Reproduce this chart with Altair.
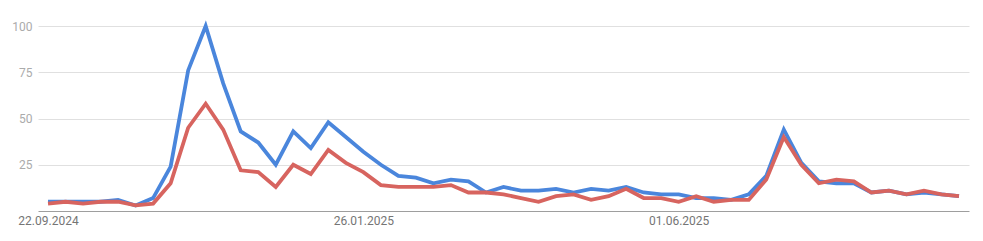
import altair as alt
import pandas as pd

start_date = "2024-09-22"
n_weeks = 53

series_a = [5, 5, 5, 5, 6, 3, 7, 24, 76, 100, 69, 43, 37, 25, 43, 34, 48, 40, 32, 25,
            19, 18, 15, 17, 16, 10, 13, 11, 11, 12, 10, 12, 11, 13, 10, 9, 9, 7, 7, 6,
            9, 19, 44, 26, 16, 15, 15, 10, 11, 9, 10, 9, 8]
series_b = [4, 5, 4, 5, 5, 3, 4, 15, 45, 58, 44, 22, 21, 13, 25, 20, 33, 26, 21, 14,
            13, 13, 13, 14, 10, 10, 9, 7, 5, 8, 9, 6, 8, 12, 7, 7, 5, 8, 5, 6,
            6, 17, 40, 25, 15, 17, 16, 10, 11, 9, 11, 9, 8]
series_names = ["A", "B"]
series_colors = ["#4a86dc", "#d7645f"]
x_tick_dates = ["2024-09-22", "2025-01-26", "2025-06-01"]
y_ticks = [25, 50, 75, 100]

dates = pd.date_range(start_date, periods=n_weeks, freq="7D")
df = pd.concat([
    pd.DataFrame({"date": dates, "value": series_a, "series": series_names[0]}),
    pd.DataFrame({"date": dates, "value": series_b, "series": series_names[1]}),
])

x_ticks = [alt.DateTime(year=int(d[:4]), month=int(d[5:7]), date=int(d[8:10])) for d in x_tick_dates]

chart = alt.Chart(df).mark_line(strokeWidth=3.8, strokeJoin="miter", interpolate="linear").encode(
    x=alt.X("date:T",
            scale=alt.Scale(domain=[alt.DateTime(year=2024, month=9, date=18),
                                    alt.DateTime(year=2025, month=9, date=25)]),
            axis=alt.Axis(values=x_ticks, format="%d.%m.%Y", title=None, grid=False,
                          ticks=False, domainColor="#9e9e9e", domainWidth=1,
                          labelColor="#757575", labelFontSize=12, labelFont="Roboto",
                          labelPadding=4, labelAlign="center")),
    y=alt.Y("value:Q", scale=alt.Scale(domain=[0, 100], nice=False),
            axis=alt.Axis(values=y_ticks, title=None, domain=False, ticks=False,
                          gridColor="#e0e0e0", gridWidth=1,
                          labelColor="#ababab", labelFontSize=12, labelFont="Roboto",
                          labelPadding=6)),
    color=alt.Color("series:N", scale=alt.Scale(domain=series_names, range=series_colors),
                    legend=None),
    order=alt.Order("series:N", sort="descending"),
).properties(
    width=931, height=185,
    autosize=alt.AutoSizeParams(type="none"),
    padding={"left": 38, "top": 26, "right": 14, "bottom": 30},
).configure(
    background="white",
    view=alt.ViewConfig(stroke="transparent", strokeWidth=0),
)

chart.save("out.html", embed_options={"renderer": "svg", "actions": False})
